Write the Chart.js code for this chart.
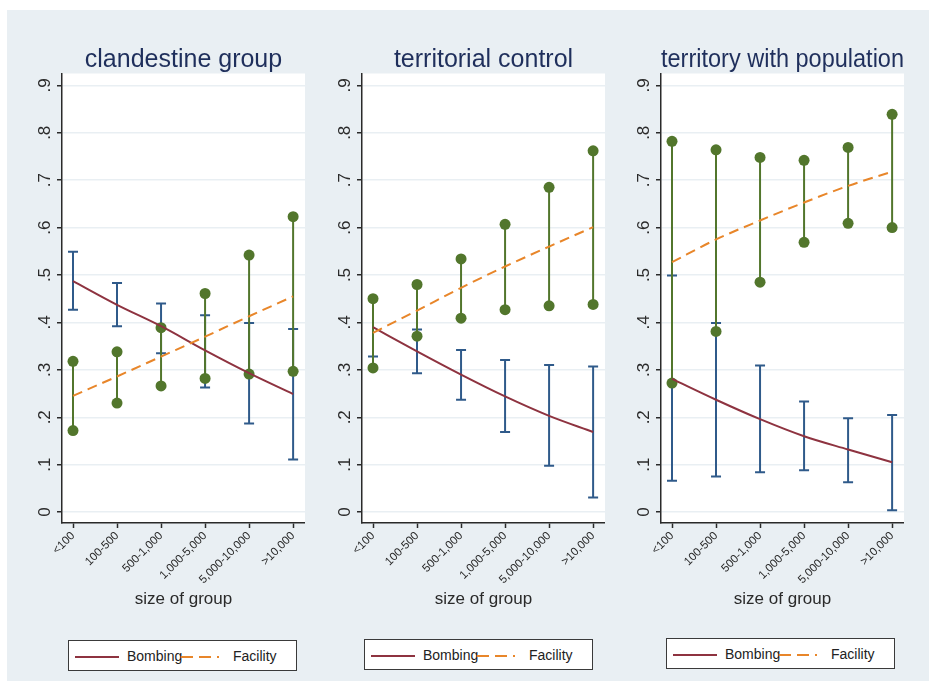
<!DOCTYPE html>
<html>
<head>
<meta charset="utf-8">
<script src="https://cdn.jsdelivr.net/npm/chart.js@4.4.1/dist/chart.umd.min.js"></script>
<style>
  html, body { margin: 0; padding: 0; background: #fff; }
  #page { position: relative; width: 929px; height: 681px; overflow: hidden; }
  #bg { position: absolute; left: 7px; top: 10px; right: 0; bottom: 0; background: #e9eff3; }
  .panel { position: absolute; top: 10px; }
  .legend {
    position: absolute; width: 229px; height: 31px; box-sizing: border-box;
    border: 1.5px solid #3a3a3a; background: #fff;
    font-family: "Liberation Sans", Arial, sans-serif; font-size: 14px; color: #222;
  }
  .legend span { position: absolute; top: 7px; }
  .legend svg { position: absolute; top: 14px; }
</style>
</head>
<body>
<div id="page">
  <div id="bg"></div>
  <canvas id="c0" class="panel" width="298" height="622" style="left:7px"></canvas>
  <canvas id="c1" class="panel" width="298" height="622" style="left:307px"></canvas>
  <canvas id="c2" class="panel" width="298" height="622" style="left:606px"></canvas>
  <div id="lg0" class="legend" style="left:68px; top:640px"></div>
  <div id="lg1" class="legend" style="left:364px; top:639px"></div>
  <div id="lg2" class="legend" style="left:666px; top:638px"></div>
</div>

<script>
/* ── Data ───────────────────────────────────────────── */
const sizeLabels = ['<100', '100-500', '500-1,000', '1,000-5,000', '5,000-10,000', '>10,000'];
const yTickVals   = [0, .1, .2, .3, .4, .5, .6, .7, .8, .9];
const yTickLabels = ['0', '.1', '.2', '.3', '.4', '.5', '.6', '.7', '.8', '.9'];
const panelTitles = ['clandestine group', 'territorial control', 'territory with population'];
const seriesNames = ['Bombing', 'Facility'];

// clandestine group
const clandBombFit = [0.487, 0.437, 0.392, 0.341, 0.293, 0.249];
const clandBombLo  = [0.427, 0.392, 0.335, 0.263, 0.187, 0.111];
const clandBombHi  = [0.549, 0.483, 0.440, 0.415, 0.399, 0.386];
const clandFacFit  = [0.245, 0.286, 0.328, 0.370, 0.413, 0.455];
const clandFacLo   = [0.172, 0.230, 0.266, 0.282, 0.291, 0.297];
const clandFacHi   = [0.318, 0.338, 0.389, 0.461, 0.542, 0.623];

// territorial control
const terrBombFit = [0.390, 0.339, 0.290, 0.244, 0.203, 0.169];
const terrBombLo  = [0.328, 0.293, 0.237, 0.169, 0.098, 0.031];
const terrBombHi  = [0.450, 0.385, 0.342, 0.321, 0.310, 0.307];
const terrFacFit  = [0.378, 0.425, 0.473, 0.518, 0.560, 0.601];
const terrFacLo   = [0.304, 0.371, 0.409, 0.427, 0.435, 0.438];
const terrFacHi   = [0.450, 0.480, 0.534, 0.607, 0.685, 0.762];

// territory with population
const popBombFit = [0.281, 0.237, 0.196, 0.160, 0.132, 0.105];
const popBombLo  = [0.066, 0.075, 0.084, 0.088, 0.063, 0.004];
const popBombHi  = [0.499, 0.399, 0.309, 0.233, 0.198, 0.205];
const popFacFit  = [0.527, 0.575, 0.615, 0.653, 0.688, 0.718];
const popFacLo   = [0.272, 0.381, 0.485, 0.569, 0.609, 0.600];
const popFacHi   = [0.782, 0.764, 0.748, 0.742, 0.769, 0.839];

/* ── Colours ────────────────────────────────────────── */
const RED = '#8e3340', BLUE = '#2f5a8a', GREEN = '#52762c', ORANGE = '#e8862a';
const INK = '#2a2a2a', NAVY = '#1f2f5c', GRID = '#e9eff3';
const FONT = '"Liberation Sans", Arial, sans-serif';

/* ── Helpers ────────────────────────────────────────── */
const pts = arr => arr.map((y, i) => ({ x: i, y }));

// vertical CI segments, broken by nulls between categories
function segments(lo, hi) {
  const out = [];
  lo.forEach((v, i) => {
    out.push({ x: i, y: v }, { x: i, y: hi[i] }, { x: i + 0.5, y: null });
  });
  return out;
}
const ends = (lo, hi) => pts(lo).concat(pts(hi));

const plotBg = {
  id: 'plotBg',
  beforeDraw(chart) {
    const { ctx, chartArea: a } = chart;
    ctx.save();
    ctx.fillStyle = '#fff';
    ctx.fillRect(a.left, a.top, a.right - a.left, a.bottom - a.top);
    ctx.restore();
  }
};

function makePanel(id, title, bFit, bLo, bHi, fFit, fLo, fHi) {
  new Chart(document.getElementById(id), {
    type: 'line',
    data: {
      datasets: [
        // first listed = drawn on top
        { data: pts(fFit), borderColor: ORANGE, borderWidth: 2, borderDash: [10, 6],
          pointRadius: 0, cubicInterpolationMode: 'monotone' },
        { data: pts(bFit), borderColor: RED, borderWidth: 2,
          pointRadius: 0, cubicInterpolationMode: 'monotone' },
        { data: ends(fLo, fHi), showLine: false, pointStyle: 'circle', pointRadius: 5.5,
          pointBackgroundColor: GREEN, pointBorderWidth: 0 },
        { data: segments(fLo, fHi), borderColor: GREEN, borderWidth: 2, pointRadius: 0, spanGaps: false },
        { data: ends(bLo, bHi), showLine: false, pointStyle: 'line', pointRadius: 5,
          pointBorderColor: BLUE, pointBorderWidth: 2 },
        { data: segments(bLo, bHi), borderColor: BLUE, borderWidth: 2, pointRadius: 0, spanGaps: false }
      ]
    },
    options: {
      responsive: false,
      animation: false,
      layout: { padding: 0, autoPadding: false },
      plugins: {
        legend: { display: false },
        tooltip: { enabled: false },
        title: {
          display: true, text: title, color: NAVY, fullSize: false,
          font: { family: FONT, size: 25, weight: 'normal', lineHeight: 1.1 },
          padding: { top: 36, bottom: 0 }
        }
      },
      scales: {
        x: {
          type: 'linear', min: -0.25, max: 5.27,
          afterBuildTicks: s => { s.ticks = sizeLabels.map((_, i) => ({ value: i })); },
          afterFit: s => { s.height = 109; s.paddingLeft = 0; s.paddingRight = 0; },
          border: { color: INK, width: 1.5 },
          grid: { drawOnChartArea: false, drawTicks: true, tickLength: 5, tickColor: INK, tickWidth: 1.5 },
          ticks: {
            color: INK, minRotation: 45, maxRotation: 45, padding: 1, autoSkip: false,
            font: { family: FONT, size: 11.5 },
            callback: (v, i) => sizeLabels[i]
          },
          title: {
            display: true, text: 'size of group', color: INK,
            font: { family: FONT, size: 17 }, padding: { top: 0, bottom: 22 }
          }
        },
        y: {
          min: -0.023, max: 0.925,
          afterBuildTicks: s => { s.ticks = yTickVals.map(v => ({ value: v })); },
          afterFit: s => { s.width = 55; },
          border: { color: INK, width: 1.5 },
          grid: { color: GRID, lineWidth: 1.5, tickLength: 5, tickColor: INK, tickWidth: 1.5 },
          ticks: {
            color: INK, minRotation: 90, maxRotation: 90, crossAlign: 'center', padding: 5,
            font: { family: FONT, size: 17 },
            callback: (v, i) => yTickLabels[i]
          }
        }
      }
    },
    plugins: [plotBg]
  });
}

makePanel('c0', panelTitles[0], clandBombFit, clandBombLo, clandBombHi, clandFacFit, clandFacLo, clandFacHi);
makePanel('c1', panelTitles[1], terrBombFit, terrBombLo, terrBombHi, terrFacFit, terrFacLo, terrFacHi);
makePanel('c2', panelTitles[2], popBombFit, popBombLo, popBombHi, popFacFit, popFacLo, popFacHi);

/* ── Legends ────────────────────────────────────────── */
['lg0', 'lg1', 'lg2'].forEach(id => {
  document.getElementById(id).innerHTML =
    `<svg width="44" height="4" style="left:6px"><line x1="0" y1="2" x2="44" y2="2" stroke="${RED}" stroke-width="2"/></svg>` +
    `<span style="left:58px">${seriesNames[0]}</span>` +
    `<svg width="42" height="4" style="left:112px"><line x1="0" y1="2" x2="42" y2="2" stroke="${ORANGE}" stroke-width="2" stroke-dasharray="12 6 12 6 2 40"/></svg>` +
    `<span style="left:164px">${seriesNames[1]}</span>`;
});
</script>
</body>
</html>
